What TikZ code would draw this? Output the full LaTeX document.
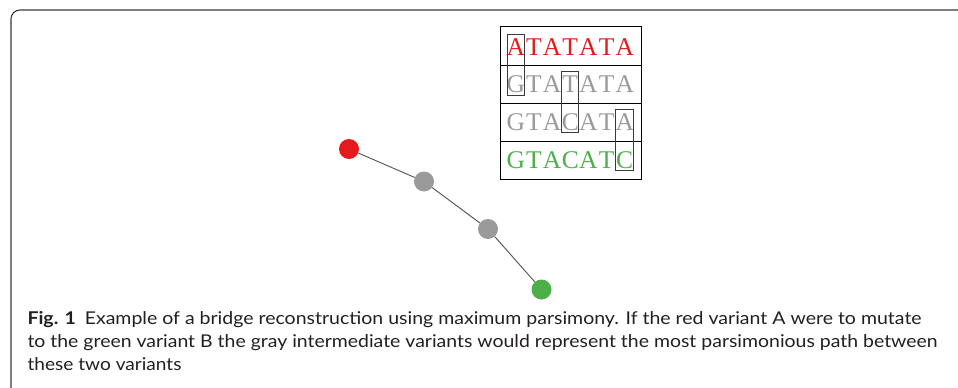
\documentclass[tikz,border=0pt]{standalone}
\usepackage{fontspec}
\setmainfont{Liberation Serif}
\newfontfamily\capfont{Lato}
\usepackage{graphicx}
\usepackage{xcolor}
\usetikzlibrary{positioning}
\definecolor{frame}{HTML}{3A3A3A}
\definecolor{varred}{HTML}{E41A1C}
\definecolor{vargray}{HTML}{9A9A9A}
\definecolor{vargreen}{HTML}{4DAF4A}
\definecolor{edgegray}{HTML}{505050}
\definecolor{captext}{HTML}{231F20}

\tikzset{
  variant/.style={circle,inner sep=0pt,minimum size=20pt},
  base/.style={anchor=base,inner sep=0pt,font=\fontsize{25.5}{25.5}\selectfont},
  caprow/.style={anchor=base west,inner sep=0pt,font=\capfont\fontsize{17.6}{20}\selectfont,text=captext},
}

\begin{document}
\begin{tikzpicture}[x=1pt,y=-1pt]
\useasboundingbox (0,0) rectangle (958,388);
\draw[frame,line width=1.1pt,rounded corners=9pt] (11,400) -- (11,10) -- (975,10);

% path of variants
\node[variant,fill=varred] (A) at (349,149) {};
\node[variant,fill=vargray] (M1) at (424,181.5) {};
\node[variant,fill=vargray] (M2) at (488,229) {};
\node[variant,fill=vargreen] (B) at (541.5,289.5) {};
\draw[edgegray,line width=0.9pt] (A) -- (M1) -- (M2) -- (B);

% sequence table
\draw[line width=0.9pt] (500,26) rectangle (641.5,179.5);
\foreach \y in {65,103.3,141.2}
  \draw[line width=0.9pt] (500,\y) -- (641.5,\y);
\foreach \seq/\col/\yb [count=\r] in {{A,T,A,T,A,T,A}/varred/55,
    {G,T,A,T,A,T,A}/vargray/92.7,
    {G,T,A,C,A,T,A}/vargray/130.3,
    {G,T,A,C,A,T,C}/vargreen/168}
  \foreach \c [count=\i] in \seq
    \node[base,text=\col] (s\r-\i) at ({515.8+18.15*(\i-1)},\yb) {\c};
% changed sites
\draw[frame,line width=0.9pt] (507.3,34) rectangle (524.3,95);
\draw[frame,line width=0.9pt] (561.7,71.7) rectangle (578.3,132.3);
\draw[frame,line width=0.9pt] (615.7,109.3) rectangle (633.7,170);

% caption
\node[caprow] (c1) at (27.3,324.3) {\resizebox{894pt}{\height}{\textbf{Fig. 1}\hspace{0.45em}Example of a bridge reconstruction using maximum parsimony. If the red variant A were to mutate}};
\node[caprow] (c2) at (27.3,347.5) {\resizebox{910pt}{\height}{to the green variant B the gray intermediate variants would represent the most parsimonious path between}};
\node[caprow] (c3) at (27.3,370.8) {\resizebox{154pt}{\height}{these two variants}};
\end{tikzpicture}
\end{document}
